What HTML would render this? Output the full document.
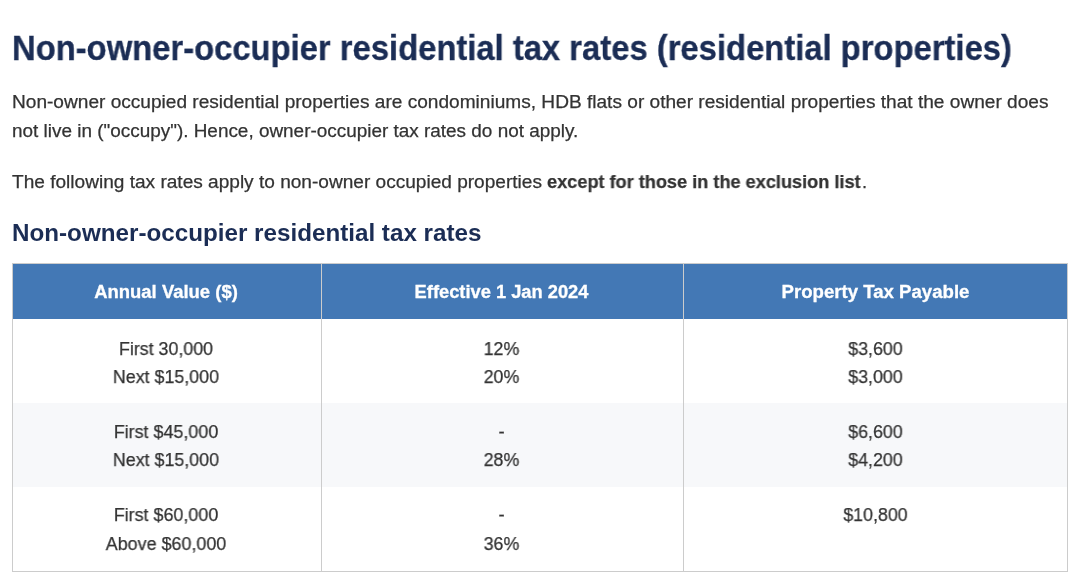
<!DOCTYPE html>
<html>
<head>
<meta charset="utf-8">
<title>Non-owner-occupier residential tax rates</title>
<style>
html,body{margin:0;padding:0;background:#fff;}
body{width:1080px;height:584px;position:relative;overflow:hidden;font-family:"Liberation Sans",sans-serif;color:#333;}
.t{position:absolute;white-space:nowrap;transform-origin:0 0;line-height:1;will-change:transform;}
.c{position:absolute;white-space:nowrap;text-align:center;transform-origin:50% 0;line-height:1;will-change:transform;}
h1,h2,p{margin:0;font-weight:normal;}
#h1,#h2{font-weight:bold;color:#1b2d55;}
#h1{-webkit-text-stroke:0.3px #1b2d55;}
.p{color:#333;-webkit-text-stroke:0.25px #333;}
#tbl{position:absolute;left:12px;top:263px;width:1056px;height:309px;box-sizing:border-box;border:1px solid #ccc;background:#fff;}
#hd{position:absolute;left:13px;top:264px;width:1054px;height:55px;background:#4378b5;}
#r2{position:absolute;left:13px;top:403px;width:1054px;height:84px;background:#f7f8fa;}
.v{position:absolute;top:264px;width:1px;height:307px;background:#ccc;}
.th{font-weight:bold;color:#fff;-webkit-text-stroke:0.3px #fff;}
.td{color:#333;-webkit-text-stroke:0.25px #333;}
.c1{left:12.3px;width:308px;}
.c2{left:321.2px;width:361px;}
.c3{left:683.5px;width:383px;}
#h1{font-size:34.5px;left:12px;top:30.9px;transform:scaleX(0.95);}
#p1a{font-size:18.3px;left:12px;top:92.8px;transform:scaleX(1.044);}
#p1b{font-size:18.3px;left:12px;top:122.2px;transform:scaleX(1.035);}
#p2{font-size:18.3px;left:12px;top:172.5px;transform:scaleX(1.043);}
#h2{font-size:23.5px;left:12px;top:222.4px;transform:scaleX(1.03);}
#th1{font-size:18.3px;top:283.1px;transform:scaleX(1.01);}
#th2{font-size:18.3px;top:283.1px;transform:scaleX(1.0);}
#th3{font-size:18.3px;top:283.1px;transform:scaleX(1.018);}
#a1{font-size:18.3px;top:339.5px;transform:scaleX(0.975);}
#b1{font-size:18.3px;top:339.5px;transform:scaleX(0.975);}
#c1{font-size:18.3px;top:339.5px;transform:scaleX(0.975);}
#a2{font-size:18.3px;top:367.9px;transform:scaleX(0.975);}
#b2{font-size:18.3px;top:367.9px;transform:scaleX(0.975);}
#c2{font-size:18.3px;top:367.9px;transform:scaleX(0.975);}
#a3{font-size:18.3px;top:423.1px;transform:scaleX(0.98);}
#b3{font-size:18.3px;top:423.1px;transform:scaleX(0.975);}
#c3{font-size:18.3px;top:423.1px;transform:scaleX(0.975);}
#a4{font-size:18.3px;top:451.4px;transform:scaleX(0.975);}
#b4{font-size:18.3px;top:451.4px;transform:scaleX(0.975);}
#c4{font-size:18.3px;top:451.4px;transform:scaleX(0.975);}
#a5{font-size:18.3px;top:506.4px;transform:scaleX(0.98);}
#b5{font-size:18.3px;top:506.4px;transform:scaleX(0.975);}
#c5{font-size:18.3px;top:506.4px;transform:scaleX(0.975);}
#a6{font-size:18.3px;top:534.7px;transform:scaleX(0.98);}
#b6{font-size:18.3px;top:534.7px;transform:scaleX(0.975);}
#p2b{font-size:18.3px;left:546.5px;top:172.5px;transform:scaleX(0.9927);}
#p2d{font-size:18.3px;left:861.5px;top:172.5px;transform:scaleX(1.0);}
</style>
</head>
<body>
<h1 class="t" id="h1">Non-owner-occupier residential tax rates (residential properties)</h1>
<p class="t p" id="p1a">Non-owner occupied residential properties are condominiums, HDB flats or other residential properties that the owner does</p>
<p class="t p" id="p1b">not live in ("occupy"). Hence, owner-occupier tax rates do not apply.</p>
<p class="t p" id="p2">The following tax rates apply to non-owner occupied properties</p>
<p class="t p" id="p2b"><b>except for those in the exclusion list</b></p>
<p class="t p" id="p2d">.</p>
<h2 class="t" id="h2">Non-owner-occupier residential tax rates</h2>

<div id="tbl"></div>
<div id="hd"></div>
<div id="r2"></div>
<div class="v" style="left:321px"></div>
<div class="v" style="left:683px"></div>

<div class="c th c1" id="th1">Annual Value ($)</div>
<div class="c th c2" id="th2">Effective 1 Jan 2024</div>
<div class="c th c3" id="th3">Property Tax Payable</div>

<div class="c td c1" id="a1">First 30,000</div>
<div class="c td c1" id="a2">Next $15,000</div>
<div class="c td c2" id="b1">12%</div>
<div class="c td c2" id="b2">20%</div>
<div class="c td c3" id="c1">$3,600</div>
<div class="c td c3" id="c2">$3,000</div>

<div class="c td c1" id="a3">First $45,000</div>
<div class="c td c1" id="a4">Next $15,000</div>
<div class="c td c2" id="b3">-</div>
<div class="c td c2" id="b4">28%</div>
<div class="c td c3" id="c3">$6,600</div>
<div class="c td c3" id="c4">$4,200</div>

<div class="c td c1" id="a5">First $60,000</div>
<div class="c td c1" id="a6">Above $60,000</div>
<div class="c td c2" id="b5">-</div>
<div class="c td c2" id="b6">36%</div>
<div class="c td c3" id="c5">$10,800</div>
</body>
</html>
